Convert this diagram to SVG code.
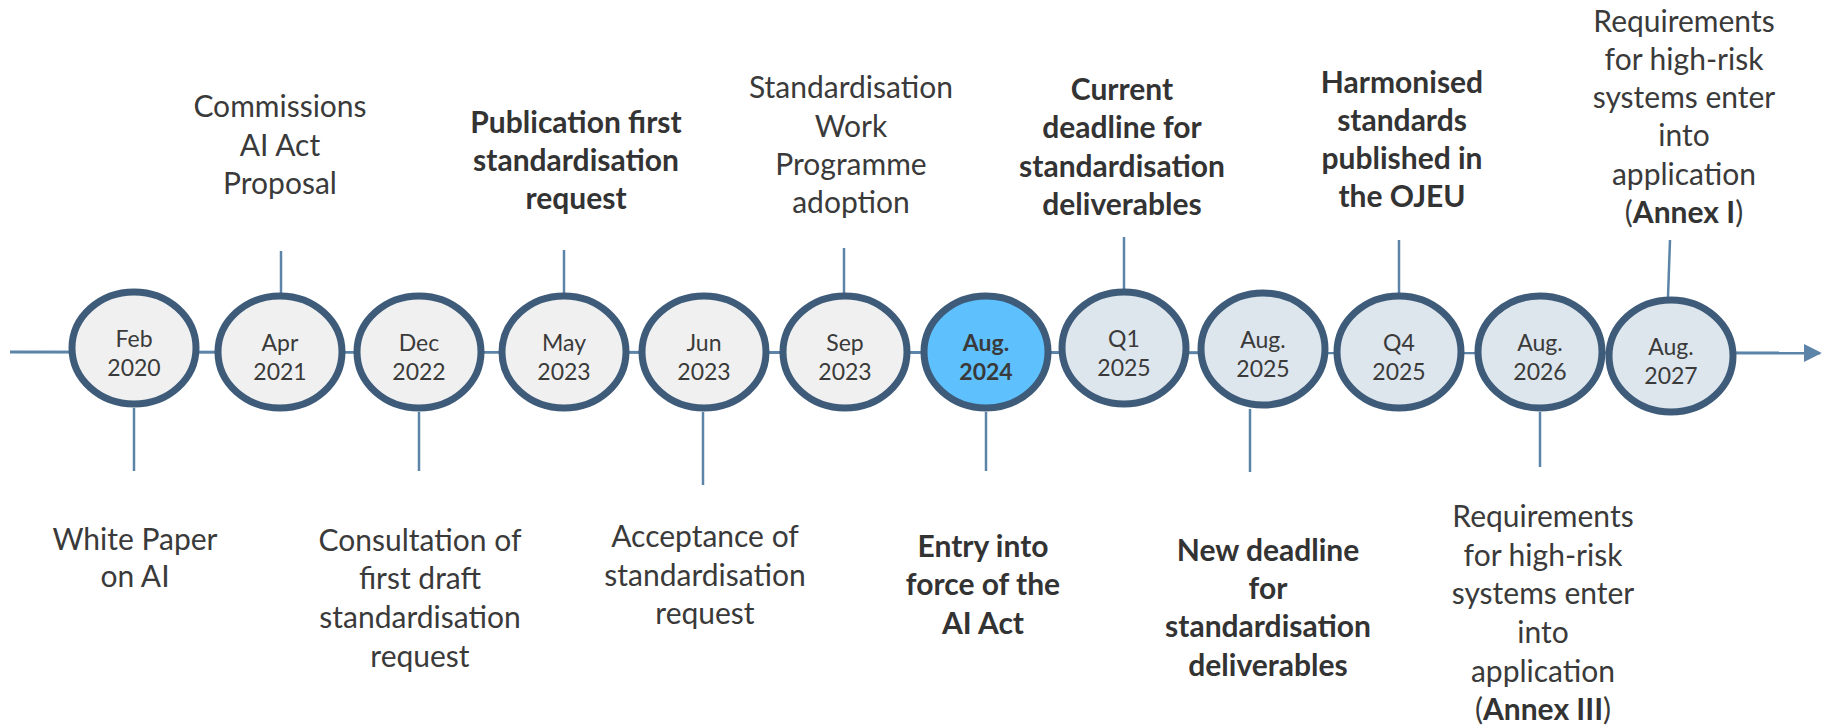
<svg xmlns="http://www.w3.org/2000/svg" width="1832" height="727" viewBox="0 0 1832 727">
<defs>
<style>
.lbl{font-family:Lato,"Open Sans","Liberation Sans",sans-serif;font-size:30px;fill:#3a3a3a;text-anchor:middle}
.b{font-weight:bold;fill:#333}
.dt{font-family:Lato,"Open Sans","Liberation Sans",sans-serif;font-size:23px;fill:#3a3a3a;text-anchor:middle}
.node ellipse{stroke:#3e5c7a;stroke-width:7}
.past{fill:#f0f0f0}
.fut{fill:#dde5ed}
.now{fill:#5ec0fd}
.tick{stroke:#5b84a8;stroke-width:2.5;fill:none}
</style>
<marker id="arr" viewBox="0 0 10 10" refX="9" refY="5" markerWidth="6" markerHeight="6" markerUnits="strokeWidth" orient="auto">
<path d="M0,0 L10,5 L0,10 Z" fill="#5b84a8"/>
</marker>
</defs>
<rect width="1832" height="727" fill="#ffffff"/>
<g id="connectors">
<line x1="10" y1="352" x2="1820" y2="353" stroke="#5b84a8" stroke-width="3" marker-end="url(#arr)"/>
<line class="tick" x1="281" y1="251" x2="281" y2="293"/>
<line class="tick" x1="564" y1="250" x2="564" y2="293"/>
<line class="tick" x1="844" y1="248" x2="844" y2="293"/>
<line class="tick" x1="1124" y1="237" x2="1124" y2="289"/>
<line class="tick" x1="1399" y1="240" x2="1399" y2="293"/>
<line class="tick" x1="1670" y1="240" x2="1668" y2="297"/>
<line class="tick" x1="134" y1="408" x2="134" y2="471"/>
<line class="tick" x1="419" y1="412" x2="419" y2="471"/>
<line class="tick" x1="703" y1="412" x2="703" y2="485"/>
<line class="tick" x1="986" y1="412" x2="986" y2="471"/>
<line class="tick" x1="1250" y1="409" x2="1250" y2="472"/>
<line class="tick" x1="1540" y1="412" x2="1540" y2="467"/>
</g>
<g id="n-feb2020" class="node"><ellipse class="past" cx="134" cy="348" rx="62" ry="56"/><text class="dt" x="134" y="347">Feb</text><text class="dt" x="134" y="376">2020</text></g>
<g id="n-apr2021" class="node"><ellipse class="past" cx="280" cy="352" rx="62" ry="56"/><text class="dt" x="280" y="351">Apr</text><text class="dt" x="280" y="380">2021</text></g>
<g id="n-dec2022" class="node"><ellipse class="past" cx="419" cy="352" rx="62" ry="56"/><text class="dt" x="419" y="351">Dec</text><text class="dt" x="419" y="380">2022</text></g>
<g id="n-may2023" class="node"><ellipse class="past" cx="564" cy="352" rx="62" ry="56"/><text class="dt" x="564" y="351">May</text><text class="dt" x="564" y="380">2023</text></g>
<g id="n-jun2023" class="node"><ellipse class="past" cx="704" cy="352" rx="62" ry="56"/><text class="dt" x="704" y="351">Jun</text><text class="dt" x="704" y="380">2023</text></g>
<g id="n-sep2023" class="node"><ellipse class="past" cx="845" cy="352" rx="62" ry="56"/><text class="dt" x="845" y="351">Sep</text><text class="dt" x="845" y="380">2023</text></g>
<g id="n-aug2024" class="node"><ellipse class="now" cx="986" cy="352" rx="62" ry="56"/><text class="dt b" x="986" y="351">Aug.</text><text class="dt b" x="986" y="380">2024</text></g>
<g id="n-q12025" class="node"><ellipse class="fut" cx="1124" cy="348" rx="62" ry="56"/><text class="dt" x="1124" y="347">Q1</text><text class="dt" x="1124" y="376">2025</text></g>
<g id="n-aug2025" class="node"><ellipse class="fut" cx="1263" cy="349" rx="62" ry="56"/><text class="dt" x="1263" y="348">Aug.</text><text class="dt" x="1263" y="377">2025</text></g>
<g id="n-q42025" class="node"><ellipse class="fut" cx="1399" cy="352" rx="62" ry="56"/><text class="dt" x="1399" y="351">Q4</text><text class="dt" x="1399" y="380">2025</text></g>
<g id="n-aug2026" class="node"><ellipse class="fut" cx="1540" cy="352" rx="62" ry="56"/><text class="dt" x="1540" y="351">Aug.</text><text class="dt" x="1540" y="380">2026</text></g>
<g id="n-aug2027" class="node"><ellipse class="fut" cx="1671" cy="356" rx="62" ry="56"/><text class="dt" x="1671" y="355">Aug.</text><text class="dt" x="1671" y="384">2027</text></g>
<g id="l-proposal"><text class="lbl" x="280" y="117">Commissions</text><text class="lbl" x="280" y="156">AI Act</text><text class="lbl" x="280" y="194">Proposal</text></g>
<g id="l-publication"><text class="lbl b" x="576" y="133">Publication first</text><text class="lbl b" x="576" y="171">standardisation</text><text class="lbl b" x="576" y="209">request</text></g>
<g id="l-swp"><text class="lbl" x="851" y="98">Standardisation</text><text class="lbl" x="851" y="137">Work</text><text class="lbl" x="851" y="175">Programme</text><text class="lbl" x="851" y="213">adoption</text></g>
<g id="l-current"><text class="lbl b" x="1122" y="100">Current</text><text class="lbl b" x="1122" y="138">deadline for</text><text class="lbl b" x="1122" y="177">standardisation</text><text class="lbl b" x="1122" y="215">deliverables</text></g>
<g id="l-harmonised"><text class="lbl b" x="1402" y="93">Harmonised</text><text class="lbl b" x="1402" y="131">standards</text><text class="lbl b" x="1402" y="169">published in</text><text class="lbl b" x="1402" y="207">the OJEU</text></g>
<g id="l-annex1"><text class="lbl" x="1684" y="32">Requirements</text><text class="lbl" x="1684" y="70">for high-risk</text><text class="lbl" x="1684" y="108">systems enter</text><text class="lbl" x="1684" y="146">into</text><text class="lbl" x="1684" y="185">application</text><text class="lbl" x="1684" y="223">(<tspan class="b">Annex I</tspan>)</text></g>
<g id="l-whitepaper"><text class="lbl" x="135" y="550">White Paper</text><text class="lbl" x="135" y="587">on AI</text></g>
<g id="l-consultation"><text class="lbl" x="420" y="551">Consultation of</text><text class="lbl" x="420" y="589">first draft</text><text class="lbl" x="420" y="628">standardisation</text><text class="lbl" x="420" y="667">request</text></g>
<g id="l-acceptance"><text class="lbl" x="705" y="547">Acceptance of</text><text class="lbl" x="705" y="586">standardisation</text><text class="lbl" x="705" y="624">request</text></g>
<g id="l-entry"><text class="lbl b" x="983" y="557">Entry into</text><text class="lbl b" x="983" y="595">force of the</text><text class="lbl b" x="983" y="634">AI Act</text></g>
<g id="l-newdeadline"><text class="lbl b" x="1268" y="561">New deadline</text><text class="lbl b" x="1268" y="599">for</text><text class="lbl b" x="1268" y="637">standardisation</text><text class="lbl b" x="1268" y="676">deliverables</text></g>
<g id="l-annex3"><text class="lbl" x="1543" y="527">Requirements</text><text class="lbl" x="1543" y="566">for high-risk</text><text class="lbl" x="1543" y="604">systems enter</text><text class="lbl" x="1543" y="643">into</text><text class="lbl" x="1543" y="682">application</text><text class="lbl" x="1543" y="720">(<tspan class="b">Annex III</tspan>)</text></g>
</svg>
